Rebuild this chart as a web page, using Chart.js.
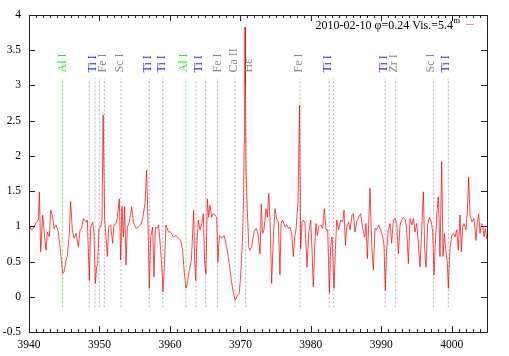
<!DOCTYPE html>
<html>
<head>
<meta charset="utf-8">
<script src="https://cdn.jsdelivr.net/npm/chart.js@4.4.1/dist/chart.umd.min.js"></script>
<style>
  html, body { margin: 0; padding: 0; background: #fff; }
  #wrap { position: relative; width: 509px; height: 356px; }
</style>
</head>
<body>
<div id="wrap"><canvas id="spectrum"></canvas></div>
<script>
// Normalised spectrum 3940-4005 A with identified lines

const wavelength = [
    3940.00, 3940.14, 3940.35, 3940.61, 3940.85, 3941.09, 3941.32, 3941.47, 3941.66, 3941.94,
    3942.13, 3942.41, 3942.60, 3942.89, 3943.08, 3943.36, 3943.55, 3943.83, 3944.16, 3944.40,
    3944.64, 3944.78, 3944.97, 3945.25, 3945.44, 3945.72, 3945.91, 3946.15, 3946.39, 3946.67,
    3947.00, 3947.24, 3947.47, 3947.71, 3948.09, 3948.28, 3948.56, 3948.75, 3949.04, 3949.23,
    3949.41, 3949.60, 3949.75, 3949.93, 3950.17, 3950.36, 3950.52, 3950.74, 3950.93, 3951.12,
    3951.31, 3951.59, 3951.87, 3952.06, 3952.35, 3952.54, 3952.82, 3953.01, 3953.20, 3953.39,
    3953.58, 3953.77, 3953.96, 3954.24, 3954.57, 3954.81, 3955.19, 3955.52, 3955.85, 3956.13,
    3956.46, 3956.70, 3956.89, 3957.08, 3957.27, 3957.55, 3957.74, 3957.93, 3958.21, 3958.40,
    3958.69, 3958.88, 3959.02, 3959.21, 3959.44, 3959.78, 3960.11, 3960.48, 3960.86, 3961.19,
    3961.53, 3961.81, 3962.05, 3962.28, 3962.47, 3962.76, 3963.04, 3963.23, 3963.37, 3963.51,
    3963.65, 3963.80, 3964.03, 3964.27, 3964.51, 3964.74, 3964.93, 3965.12, 3965.31, 3965.50,
    3965.69, 3965.92, 3966.16, 3966.40, 3966.63, 3966.82, 3967.01, 3967.34, 3967.68, 3968.05,
    3968.43, 3968.72, 3969.00, 3969.28, 3969.57, 3969.85, 3970.04, 3970.28, 3970.45, 3970.55,
    3970.60, 3970.66, 3970.72, 3970.80, 3971.00, 3971.20, 3971.36, 3971.60, 3971.93, 3972.22,
    3972.50, 3972.79, 3972.97, 3973.16, 3973.35, 3973.64, 3973.83, 3974.02, 3974.20, 3974.44,
    3974.68, 3974.91, 3975.15, 3975.39, 3975.62, 3975.77, 3976.00, 3976.33, 3976.57, 3976.81,
    3977.04, 3977.28, 3977.52, 3977.70, 3977.89, 3978.18, 3978.40, 3978.56, 3978.75, 3978.94,
    3979.17, 3979.46, 3979.69, 3979.98, 3980.17, 3980.35, 3980.54, 3980.73, 3980.92, 3981.11,
    3981.40, 3981.68, 3981.92, 3982.15, 3982.39, 3982.63, 3982.81, 3983.00, 3983.29, 3983.48,
    3983.67, 3983.95, 3984.23, 3984.52, 3984.71, 3984.90, 3985.09, 3985.37, 3985.56, 3985.84,
    3986.03, 3986.27, 3986.50, 3986.79, 3987.07, 3987.36, 3987.64, 3987.83, 3988.02, 3988.21,
    3988.40, 3988.63, 3988.87, 3989.11, 3989.34, 3989.63, 3989.91, 3990.20, 3990.38, 3990.57,
    3990.76, 3991.00, 3991.24, 3991.47, 3991.71, 3991.95, 3992.18, 3992.42, 3992.66, 3992.89,
    3993.13, 3993.41, 3993.60, 3993.84, 3994.07, 3994.36, 3994.55, 3994.78, 3995.02, 3995.30,
    3995.49, 3995.73, 3995.97, 3996.16, 3996.34, 3996.58, 3996.82, 3997.10, 3997.29, 3997.48,
    3997.67, 3997.91, 3998.10, 3998.33, 3998.57, 3998.76, 3998.95, 3999.14, 3999.37, 3999.51,
    3999.75, 3999.99, 4000.22, 4000.46, 4000.70, 4000.93, 4001.17, 4001.36, 4001.55, 4001.74,
    4002.02, 4002.21, 4002.40, 4002.59, 4002.87, 4003.16, 4003.44, 4003.63, 4003.82, 4004.01,
    4004.20, 4004.39, 4004.58, 4004.77, 4004.95, 4005.00
];

const flux = [
    0.97, 0.99, 0.95, 0.97, 1.02, 1.06, 1.09, 1.49, 0.64, 1.16,
    0.95, 0.66, 0.92, 0.85, 1.23, 1.13, 0.97, 1.02, 0.92, 0.71,
    0.47, 0.33, 0.35, 0.52, 0.57, 0.90, 1.35, 0.95, 0.83, 0.90,
    0.71, 0.95, 0.97, 1.11, 1.06, 1.09, 0.23, 0.99, 1.06, 0.90,
    0.19, 0.42, 0.47, 0.97, 0.99, 1.09, 2.58, 1.09, 0.85, 0.57,
    0.99, 1.02, 0.76, 1.02, 1.04, 1.13, 1.39, 0.52, 1.28, 0.85,
    1.28, 0.45, 0.99, 1.06, 1.28, 1.06, 0.97, 0.99, 1.02, 1.11,
    1.32, 1.80, 1.02, 0.12, 0.85, 0.99, 0.28, 0.99, 0.97, 1.02,
    0.66, 0.38, 0.07, 0.42, 1.02, 0.92, 0.92, 0.85, 0.87, 0.83,
    0.80, 0.66, 0.33, 0.12, 0.19, 0.38, 0.52, 0.90, 1.23, 0.52,
    0.23, 0.71, 1.09, 0.95, 1.04, 1.18, 0.47, 0.33, 1.39, 1.13,
    1.30, 1.13, 1.18, 1.16, 1.13, 0.49, 0.87, 0.83, 0.87, 0.71,
    0.47, 0.23, 0.05, -0.05, 0.02, 0.05, 0.31, 0.76, 1.37, 2.20,
    3.00, 3.83, 3.00, 1.80, 1.20, 0.70, 0.66, 0.71, 0.92, 0.97,
    0.90, 0.61, 1.32, 0.90, 0.95, 1.25, 1.13, 1.47, 1.11, 0.19,
    0.85, 1.25, 1.11, 1.06, 0.31, 1.04, 1.09, 0.99, 1.02, 0.97,
    0.99, 0.90, 0.57, 0.85, 0.95, 1.35, 2.72, 0.68, 1.06, 1.09,
    1.04, 0.42, 0.90, 1.09, 0.66, 0.14, 0.71, 1.04, 0.87, 0.99,
    1.02, 0.97, 1.25, 0.95, 0.95, 0.05, 0.71, 0.85, 0.12, 0.66,
    1.09, 0.95, 1.09, 1.06, 1.23, 0.73, 0.99, 1.06, 0.95, 1.16,
    1.18, 0.92, 1.06, 1.13, 1.18, 0.97, 0.85, 1.04, 0.54, 1.04,
    1.54, 0.76, 0.38, 0.97, 0.95, 1.02, 0.95, 0.85, 0.73, 0.09,
    0.66, 0.95, 1.04, 0.76, 1.09, 1.11, 1.06, 0.61, 1.02, 1.09,
    1.13, 1.09, 0.97, 0.47, 1.11, 1.02, 1.11, 0.92, 1.04, 0.71,
    0.42, 0.95, 1.49, 0.66, 0.42, 1.02, 1.13, 1.06, 0.92, 0.31,
    0.76, 1.23, 1.42, 0.57, 1.92, 0.57, 0.90, 0.68, 0.47, 0.12,
    0.68, 0.87, 0.90, 0.85, 0.95, 0.66, 1.16, 0.64, 0.99, 1.04,
    0.95, 1.21, 1.70, 1.16, 1.06, 1.11, 0.80, 1.06, 1.18, 0.90,
    1.04, 1.02, 0.85, 0.97, 0.83, 0.85
];

// dashed line markers (Al I in green, the rest grey)
const alMarkers = [3944.75, 3962.28];
const otherMarkers = [
    3948.56, 3949.37, 3949.98, 3950.69, 3953.06, 3957.07, 3958.98, 3963.70,
    3965.08, 3966.75, 3969.24, 3970.75, 3978.46, 3982.61, 3983.24, 3990.55,
    3991.99, 3997.41, 3999.51
];
const markerRange = [-0.15, 3.1];

// line identifications written at the top
const labelWl = [
    3944.75, 3949.08, 3950.43, 3952.84, 3956.93, 3958.83, 3962.00, 3964.13, 3966.82,
    3969.09, 3971.18, 3978.32, 3982.48, 3990.34, 3991.73, 3997.05, 3999.18
];
const labelText = [
    'Al I', 'Ti I', 'Fe I', 'Sc I', 'Ti I', 'Ti I', 'Al I', 'Ti I', 'Fe I',
    'Ca II', 'Hε', 'Fe I', 'Ti I', 'Ti I', 'Zr I', 'Sc I', 'Ti I'
];

const xTicks = [3940, 3950, 3960, 3970, 3980, 3990, 4000];
const yTicks = [-0.5, 0, 0.5, 1, 1.5, 2, 2.5, 3, 3.5, 4];

const legendText = '2010-02-10 φ=0.24 Vis.=5.4';
const legendSup = 'm';

const SERIF = '"Liberation Serif", "DejaVu Serif", serif';

function labelColor(text) {
    if (text.startsWith('Al')) return '#22ee22';
    if (text.startsWith('Ti')) return '#2a2aff';
    return '#8a8a8a';
}

function markerDataset(wl, color) {
    return {
        data: [{ x: wl, y: markerRange[0] }, { x: wl, y: markerRange[1] }],
        borderColor: color,
        borderWidth: 1,
        borderDash: [2, 2],
        pointRadius: 0,
        order: 2
    };
}

// frame, inward ticks, line labels and the key
const decorPlugin = {
    id: 'decor',
    afterDraw(chart) {
        const ctx = chart.ctx;
        const area = chart.chartArea;
        const xs = chart.scales.x;
        const ys = chart.scales.y;

        ctx.save();
        ctx.strokeStyle = '#222';
        ctx.lineWidth = 1;
        ctx.beginPath();
        for (let v = xs.min; v <= xs.max; v++) {
            const px = Math.round(xs.getPixelForValue(v)) + 0.5;
            const len = v % 10 === 0 ? 6 : 3;
            ctx.moveTo(px, area.bottom);
            ctx.lineTo(px, area.bottom - len);
            ctx.moveTo(px, area.top);
            ctx.lineTo(px, area.top + len);
        }
        yTicks.forEach(v => {
            const py = Math.round(ys.getPixelForValue(v)) + 0.5;
            ctx.moveTo(area.left, py);
            ctx.lineTo(area.left + 6, py);
            ctx.moveTo(area.right, py);
            ctx.lineTo(area.right - 6, py);
        });
        ctx.stroke();
        ctx.strokeRect(Math.round(area.left) + 0.5, Math.round(area.top) + 0.5,
            Math.round(area.right - area.left), Math.round(area.bottom - area.top));

        // rotated identifications
        ctx.font = '12px ' + SERIF;
        ctx.textAlign = 'left';
        ctx.textBaseline = 'middle';
        labelWl.forEach((wl, i) => {
            const px = xs.getPixelForValue(wl);
            ctx.save();
            ctx.translate(px, 72.5);
            ctx.rotate(-Math.PI / 2);
            ctx.fillStyle = labelColor(labelText[i]);
            ctx.fillText(labelText[i], 0, 0);
            ctx.restore();
        });

        // key
        ctx.fillStyle = '#000';
        ctx.textAlign = 'right';
        ctx.textBaseline = 'alphabetic';
        ctx.font = '12px ' + SERIF;
        ctx.fillText(legendText, 453, 29);
        ctx.textAlign = 'left';
        ctx.font = '8.5px ' + SERIF;
        ctx.fillText(legendSup, 453.5, 23);
        ctx.strokeStyle = 'rgba(255,0,0,0.45)';
        ctx.beginPath();
        ctx.moveTo(466, 24.5);
        ctx.lineTo(474, 24.5);
        ctx.stroke();
        ctx.restore();
    }
};

const datasets = [{
    data: wavelength.map((w, i) => ({ x: w, y: flux[i] })),
    borderColor: 'rgba(255,0,0,0.72)',
    borderWidth: 1,
    pointRadius: 0,
    tension: 0,
    order: 0
}];
alMarkers.forEach(wl => datasets.push(markerDataset(wl, 'rgba(40,230,40,0.75)')));
otherMarkers.forEach(wl => datasets.push(markerDataset(wl, '#b4b4b4')));

new Chart(document.getElementById('spectrum'), {
    type: 'line',
    data: { datasets: datasets },
    options: {
        responsive: true,
        maintainAspectRatio: false,
        animation: false,
        layout: { padding: { top: 15, right: 22, left: 0, bottom: 0 } },
        plugins: {
            legend: { display: false },
            tooltip: { enabled: false }
        },
        scales: {
            x: {
                type: 'linear',
                min: 3940,
                max: 4005,
                afterBuildTicks: s => { s.ticks = xTicks.map(v => ({ value: v })); },
                afterFit: s => { s.height = 24; },
                grid: { display: false, drawTicks: false },
                border: { display: false },
                ticks: {
                    autoSkip: false,
                    maxRotation: 0,
                    padding: 6,
                    color: '#000',
                    font: { family: SERIF, size: 11.5 },
                    callback: v => String(v)
                }
            },
            y: {
                type: 'linear',
                min: -0.5,
                max: 4,
                afterBuildTicks: s => { s.ticks = yTicks.map(v => ({ value: v })); },
                afterFit: s => { s.width = 29; },
                grid: { display: false, drawTicks: false },
                border: { display: false },
                ticks: {
                    autoSkip: false,
                    padding: 8,
                    color: '#000',
                    font: { family: SERIF, size: 11.5 },
                    callback: v => String(v)
                }
            }
        }
    },
    plugins: [decorPlugin]
});
</script>
</body>
</html>
